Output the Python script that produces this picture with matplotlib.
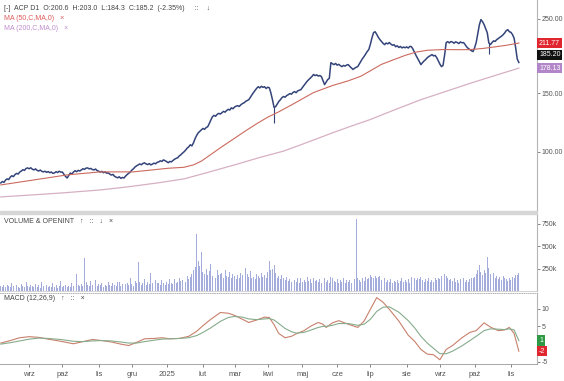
import numpy as np
import pandas as pd
import matplotlib
matplotlib.use("Agg")
import matplotlib.pyplot as plt
from matplotlib.patches import Rectangle

plt.rcParams['font.family'] = ['Liberation Sans', 'DejaVu Sans']

# daily closes, ACP, from 2024-08-07
close = [
    80.7, 81.5, 81.0, 82.3, 83.0, 82.6, 84.0, 84.8, 84.3, 85.5, 86.2, 85.8, 87.0, 87.6, 88.4, 88.0, 89.2, 89.5,
    89.0, 89.6, 88.7, 88.3, 88.9, 88.0, 87.6, 88.2, 87.4, 87.1,
    87.5, 86.8, 87.3, 86.6, 87.0, 86.2, 86.5, 87.2, 86.7, 87.5, 86.9, 87.0, 85.6, 84.4, 83.5,
    85.0, 86.4, 85.8, 87.0, 87.8, 87.2, 88.0, 87.6, 88.3, 89.0, 88.6, 89.4, 89.5,
    88.9, 89.2, 88.5, 88.3, 88.8, 87.9, 87.5, 87.0, 87.4, 86.6, 87.1, 86.3, 86.5, 85.8, 85.2, 85.6, 84.5, 84.0,
    83.6, 84.2, 83.3, 83.8, 83.5,
    84.6, 85.5, 86.3, 87.0, 88.2, 89.0, 90.1, 90.8, 91.4, 92.0, 91.5, 92.3, 92.7, 92.0, 91.6, 92.2, 91.4, 91.9,
    92.5, 92.1, 93.0, 93.3,
    94.0, 93.6, 94.6, 94.1, 93.5, 92.8, 93.6, 93.3, 94.2, 95.0, 95.6, 96.0, 97.2, 98.0, 99.1, 100.0,
    101.2, 102.6, 103.5, 105.0, 104.2, 106.4, 109.5, 112.0, 114.0, 115.2, 116.4, 117.5, 116.8, 118.2, 118.9,
    121.5, 124.6, 127.4,
    128.6, 127.8, 129.5, 130.4, 129.8, 131.0, 132.2, 131.5, 133.0, 134.1, 133.4, 135.5, 134.6, 136.2, 137.0,
    137.5, 136.8, 138.4, 139.5, 140.2, 141.6, 142.5, 143.3,
    145.6, 148.2, 150.5, 152.8, 155.0, 156.7, 155.4, 157.2, 156.0, 156.7, 154.8, 156.2, 155.6, 150.2, 143.3,
    136.0, 136.5, 139.0, 141.5, 143.2, 145.3, 146.5, 145.8, 147.4, 148.3, 149.5, 148.8, 150.6, 151.5, 150.4,
    152.3, 153.0, 153.6, 155.8, 158.2, 160.5, 162.8, 164.6, 166.4, 168.2, 170.5, 169.2, 170.1, 168.6, 169.3,
    168.0, 163.5, 159.0, 161.8, 164.6, 166.0, 185.0,
    183.6, 182.5, 184.0, 181.8, 182.9, 181.2, 180.0, 181.5, 180.6, 182.0, 182.5, 180.2, 178.4, 176.5, 178.0,
    179.2, 180.0, 183.5, 186.8, 190.2, 193.0, 196.5, 199.8, 202.5, 210.0, 219.5, 227.5, 229.0,
    225.0, 220.4, 217.0, 214.2, 211.5, 209.5, 211.8, 210.6, 212.5, 210.2, 208.6, 209.4, 206.5, 207.8, 205.4,
    206.9, 204.8, 206.0, 205.0, 206.2, 204.6, 207.0, 206.5, 203.0, 198.4, 194.0, 190.2, 186.4, 182.5,
    185.0, 187.2, 189.0, 191.4, 193.0, 194.2, 195.6, 193.8, 194.5, 191.6, 187.5, 183.2, 180.0, 181.5, 195.0, 212.5,
    213.8, 212.0, 214.0, 213.2, 211.5, 213.6, 212.5, 211.0, 213.4, 212.2, 212.5, 209.5, 206.2, 204.0, 202.5,
    200.8, 199.7, 205.0, 212.5, 226.0, 240.0, 249.0,
    245.5, 240.5, 234.0, 227.5, 212.0, 209.5, 212.5, 215.0, 214.2, 216.9, 218.5, 220.4, 222.0, 224.2, 227.0,
    230.5, 232.3, 229.0, 228.0, 224.5, 219.0, 205.0, 189.6, 185.2,
]

# long lower wicks
wick_idx = [173, 309]
wick_low = [122.0, 196.0]

# moving averages (sampled by trading-day index)
ma50_idx = [0, 21, 42, 63, 84, 106, 116, 122, 127, 133, 140, 148, 155, 162, 169, 176, 185, 198, 210, 220,
            228, 235, 241, 249, 256, 263, 270, 280, 290, 297, 305, 313, 320, 328]
ma50 = [79.6, 82.4, 85.3, 87.1, 87.1, 89.3, 89.9, 91.4, 93.8, 98.2, 103.6, 109.8, 115.6, 121.4, 127.0, 131.8,
        139.0, 150.5, 158.0, 163.2, 168.5, 176.0, 182.8, 189.0, 194.5, 199.0, 201.5, 202.5, 202.3, 202.4,
        204.0, 206.3, 208.5, 211.77]
ma200_idx = [0, 20, 40, 63, 80, 100, 116, 130, 148, 165, 179, 190, 198, 210, 222, 234, 250, 266, 285, 300,
             315, 328]
ma200 = [73.3, 74.3, 75.4, 76.9, 78.5, 80.8, 83.0, 86.5, 91.4, 96.5, 100.5, 105.0, 108.5, 114.0, 119.5,
         125.0, 134.0, 143.3, 153.5, 162.0, 170.5, 178.13]

# volume in thousands
volume_k = [
    55, 48, 62, 40, 71, 52, 45, 90, 58, 43, 66, 50, 38, 74, 61, 47, 105, 53, 44, 68,
    57, 42, 80, 49, 63, 38, 95, 54, 46, 72, 41, 59, 50, 84, 45, 66, 39, 58, 112, 47,
    53, 70, 44, 61, 48, 88, 56, 42, 190, 64, 51, 78, 60, 370, 95, 72, 58, 110, 66, 83,
    120, 54, 76, 62, 90, 48, 70, 57, 102, 64, 53, 86, 68, 58, 95, 100, 61, 74, 55, 80,
    92, 67, 145, 78, 60, 110, 85, 320, 96, 72, 88, 130, 70, 105, 82, 200, 90, 76, 118, 84,
    94, 71, 125, 88, 66, 102, 79, 135, 92, 74, 130, 86, 98, 150, 110, 125, 140, 105, 170, 132,
    160, 185, 230, 270, 640, 330, 280, 440, 210, 190, 250, 175, 220, 300, 165, 205, 150, 240, 180, 195,
    200, 145, 230, 170, 155, 210, 140, 185, 165, 130, 180, 150, 200, 175, 145, 260, 190, 160, 220, 150,
    155, 135, 190, 170, 145, 200, 160, 180, 140, 210, 330, 240, 250, 290, 200, 150, 165, 130, 175, 140,
    120, 155, 110, 135, 95, 150, 118, 100, 140, 88, 150, 105, 125, 98, 160, 115, 130, 90, 145, 108,
    120, 96, 138, 85, 112, 150, 100, 128, 92, 160, 140, 115, 95, 132, 88, 120, 105, 140, 90, 118,
    100, 125, 86, 110, 135, 800, 150, 120, 98, 140, 115, 160, 130, 145, 175, 160, 150, 170, 140, 155,
    170, 125, 110, 140, 95, 120, 105, 130, 88, 115, 100, 125, 92, 110, 140, 98, 120, 105, 135, 90,
    160, 115, 140, 125, 150, 135, 160, 120, 100, 130, 110, 145, 95, 125, 105, 140, 118, 150, 130, 165,
    145, 190, 170, 150, 120, 135, 110, 140, 100, 125, 92, 130, 115, 145, 105, 120, 98, 135, 150, 140,
    160, 190, 230, 290, 210, 175, 240, 200, 380, 260, 185, 520, 200, 150, 170, 135, 160, 120, 170, 140,
    130, 110, 150, 125, 160, 140, 180, 175, 200,
]

# MACD (12,26,9)
macd_idx = [0, 6, 12, 18, 24, 30, 38, 46, 52, 58, 64, 70, 76, 81, 86, 91, 97, 102, 107, 113,
            119, 124, 128, 133, 139, 144, 148, 153, 157, 162, 167, 170, 173, 176, 180, 184, 187, 192, 196, 201,
            204, 206, 210, 214, 220, 226, 230, 234, 238, 242, 246, 252, 258, 262, 266, 270, 274, 278, 282, 286,
            292, 297, 301, 306, 310, 315, 319, 322, 325, 328]
macd = [0.3, 1.0, 1.8, 2.1, 1.9, 1.4, 0.8, 0.1, 0.7, 1.3, 1.0, 0.6, 0.0, -0.4, 0.5, 1.5, 1.6, 1.8, 1.5, 1.6,
        2.2, 3.6, 5.2, 7.0, 8.9, 8.7, 8.1, 7.0, 6.1, 6.8, 7.6, 7.5, 5.5, 3.0, 1.8, 2.2, 2.9, 3.8, 5.0, 6.1,
        5.6, 4.7, 6.0, 6.6, 5.6, 4.7, 6.5, 9.8, 13.1, 11.8, 9.8, 6.5, 2.5, 0.8, -1.5, -2.8, -3.0, -4.4, -1.5, -0.4,
        1.8, 3.3, 3.8, 6.0, 4.8, 3.8, 4.0, 4.7, 3.0, -2.0]
signal = [0.0, 0.4, 0.9, 1.4, 1.7, 1.6, 1.3, 0.8, 0.7, 0.9, 1.0, 0.9, 0.6, 0.3, 0.3, 0.7, 1.1, 1.4, 1.5, 1.6,
          1.8, 2.4, 3.3, 4.6, 6.4, 7.5, 7.8, 7.6, 7.1, 6.9, 7.1, 7.2, 6.8, 5.8, 4.4, 3.5, 3.1, 3.3, 3.9, 4.7,
          5.0, 5.0, 5.3, 5.8, 5.8, 5.3, 5.6, 7.0, 9.2, 10.4, 10.5, 9.0, 6.6, 4.6, 2.2, 0.3, -1.2, -2.7, -2.7, -2.0,
          -0.5, 1.0, 2.2, 3.8, 4.3, 4.2, 4.1, 4.3, 4.0, 1.0]

month_labels = ['wrz', 'paź', 'lis', 'gru', '2025', 'lut', 'mar', 'kwi', 'maj', 'cze', 'lip', 'sie',
                'wrz', 'paź', 'lis']

dates = pd.bdate_range('2024-08-07', periods=len(close))
x = np.arange(len(close))
month_pos = [i for i in range(1, len(dates)) if dates[i].month != dates[i - 1].month]

W, H = 564, 381
fig = plt.figure(figsize=(W / 100, H / 100), dpi=100)


def px_axes(x0, y0, x1, y1):
    return fig.add_axes([x0 / W, 1 - y1 / H, (x1 - x0) / W, (y1 - y0) / H])


ax = px_axes(0, 0, 537, 211)
axv = px_axes(0, 214, 537, 291)
axm = px_axes(0, 293, 537, 364)

fig.patches.append(Rectangle((0, 1 - 214 / H), 537 / W, 3 / H, transform=fig.transFigure,
                             color='#d6d6d6', zorder=0))

grey = '#555555'
for a in (ax, axv, axm):
    for s in ('left', 'top', 'bottom'):
        a.spines[s].set_visible(False)
    a.spines['right'].set_color('#b5b5b5')
    a.spines['right'].set_linewidth(0.8)
    a.yaxis.tick_right()
    a.tick_params(axis='y', labelsize=5, colors=grey, length=2, width=0.5, pad=1.5)
    a.tick_params(axis='x', bottom=False, labelbottom=False)
    a.set_xlim(-0.5, 339.5)

# price panel
ax.plot(x, close, color='#34447a', lw=1.1)
ax.vlines(wick_idx, wick_low, [close[i] for i in wick_idx], color='#34447a', lw=0.8)
ax.plot(ma50_idx, ma50, color='#cc6a5e', lw=0.8)
ax.plot(ma200_idx, ma200, color='#d6b0c2', lw=0.9)
ax.set_yscale('log')
ax.set_ylim(66.5, 285)
ax.set_yticks([100, 150, 250])
ax.set_yticklabels(['100.00', '150.00', '250.00'])
ax.minorticks_off()


def badge(a, val, txt, fc, dy=0):
    a.annotate(txt, xy=(1, val), xycoords=a.get_yaxis_transform(), xytext=(1.5, dy),
               textcoords='offset points', ha='left', va='center', fontsize=5, color='white',
               bbox=dict(boxstyle='square,pad=0.25', fc=fc, ec='none'), annotation_clip=False)


badge(ax, ma50[-1], f'{ma50[-1]:.2f}', '#e0262e')
badge(ax, close[-1], f'{close[-1]:.2f}', '#111111', dy=5.5)
badge(ax, ma200[-1], f'{ma200[-1]:.2f}', '#b286c8')

fig.text(4 / W, 1 - 9 / H, '[-]  ACP D1  O:200.6  H:203.0  L:184.3  C:185.2  (-2.35%)     ::    ↓',
         fontsize=5, color='#444444', va='center')
fig.text(4 / W, 1 - 19 / H, 'MA (50,C,MA,0)   ×', fontsize=5, color='#e05a5a', va='center')
fig.text(4 / W, 1 - 29 / H, 'MA (200,C,MA,0)   ×', fontsize=5, color='#c08ed0', va='center')

# volume panel
axv.bar(x, volume_k, width=0.6, color='#a3acdb')
axv.set_ylim(0, 860)
axv.set_yticks([250, 500, 750])
axv.set_yticklabels(['250k', '500k', '750k'])
axv.spines['bottom'].set_visible(True)
axv.spines['bottom'].set_color('#cccccc')
axv.spines['bottom'].set_linewidth(0.6)
fig.text(4 / W, 1 - 221 / H, 'VOLUME & OPENINT   ↑   ::   ↓   ×', fontsize=5, color='#444444', va='center')

# MACD panel
axm.plot(macd_idx, macd, color='#c8806c', lw=0.8)
axm.plot(macd_idx, signal, color='#86ac8c', lw=0.8)
axm.set_ylim(-5.6, 14.4)
axm.set_yticks([-5, 5, 10])
axm.set_yticklabels(['-5', '5', '10'])
axm.spines['top'].set_visible(True)
axm.spines['top'].set_linestyle(':')
axm.spines['top'].set_color('#aaaaaa')
axm.spines['top'].set_linewidth(0.6)
axm.spines['bottom'].set_visible(True)
axm.spines['bottom'].set_color('#999999')
axm.spines['bottom'].set_linewidth(0.6)
badge(axm, signal[-1], f'{signal[-1]:.0f}', '#2f9a45')
badge(axm, macd[-1], f'{macd[-1]:.0f}', '#e0262e')
axm.set_xticks(month_pos)
axm.set_xticklabels(month_labels)
axm.tick_params(axis='x', bottom=True, labelbottom=True, labelsize=5.5, colors=grey,
                length=2, width=0.5, pad=3)
fig.text(4 / W, 1 - 298 / H, 'MACD (12,26,9)   ↑   ::   ×', fontsize=5, color='#444444', va='center')

fig.savefig('out.png', dpi=100)
